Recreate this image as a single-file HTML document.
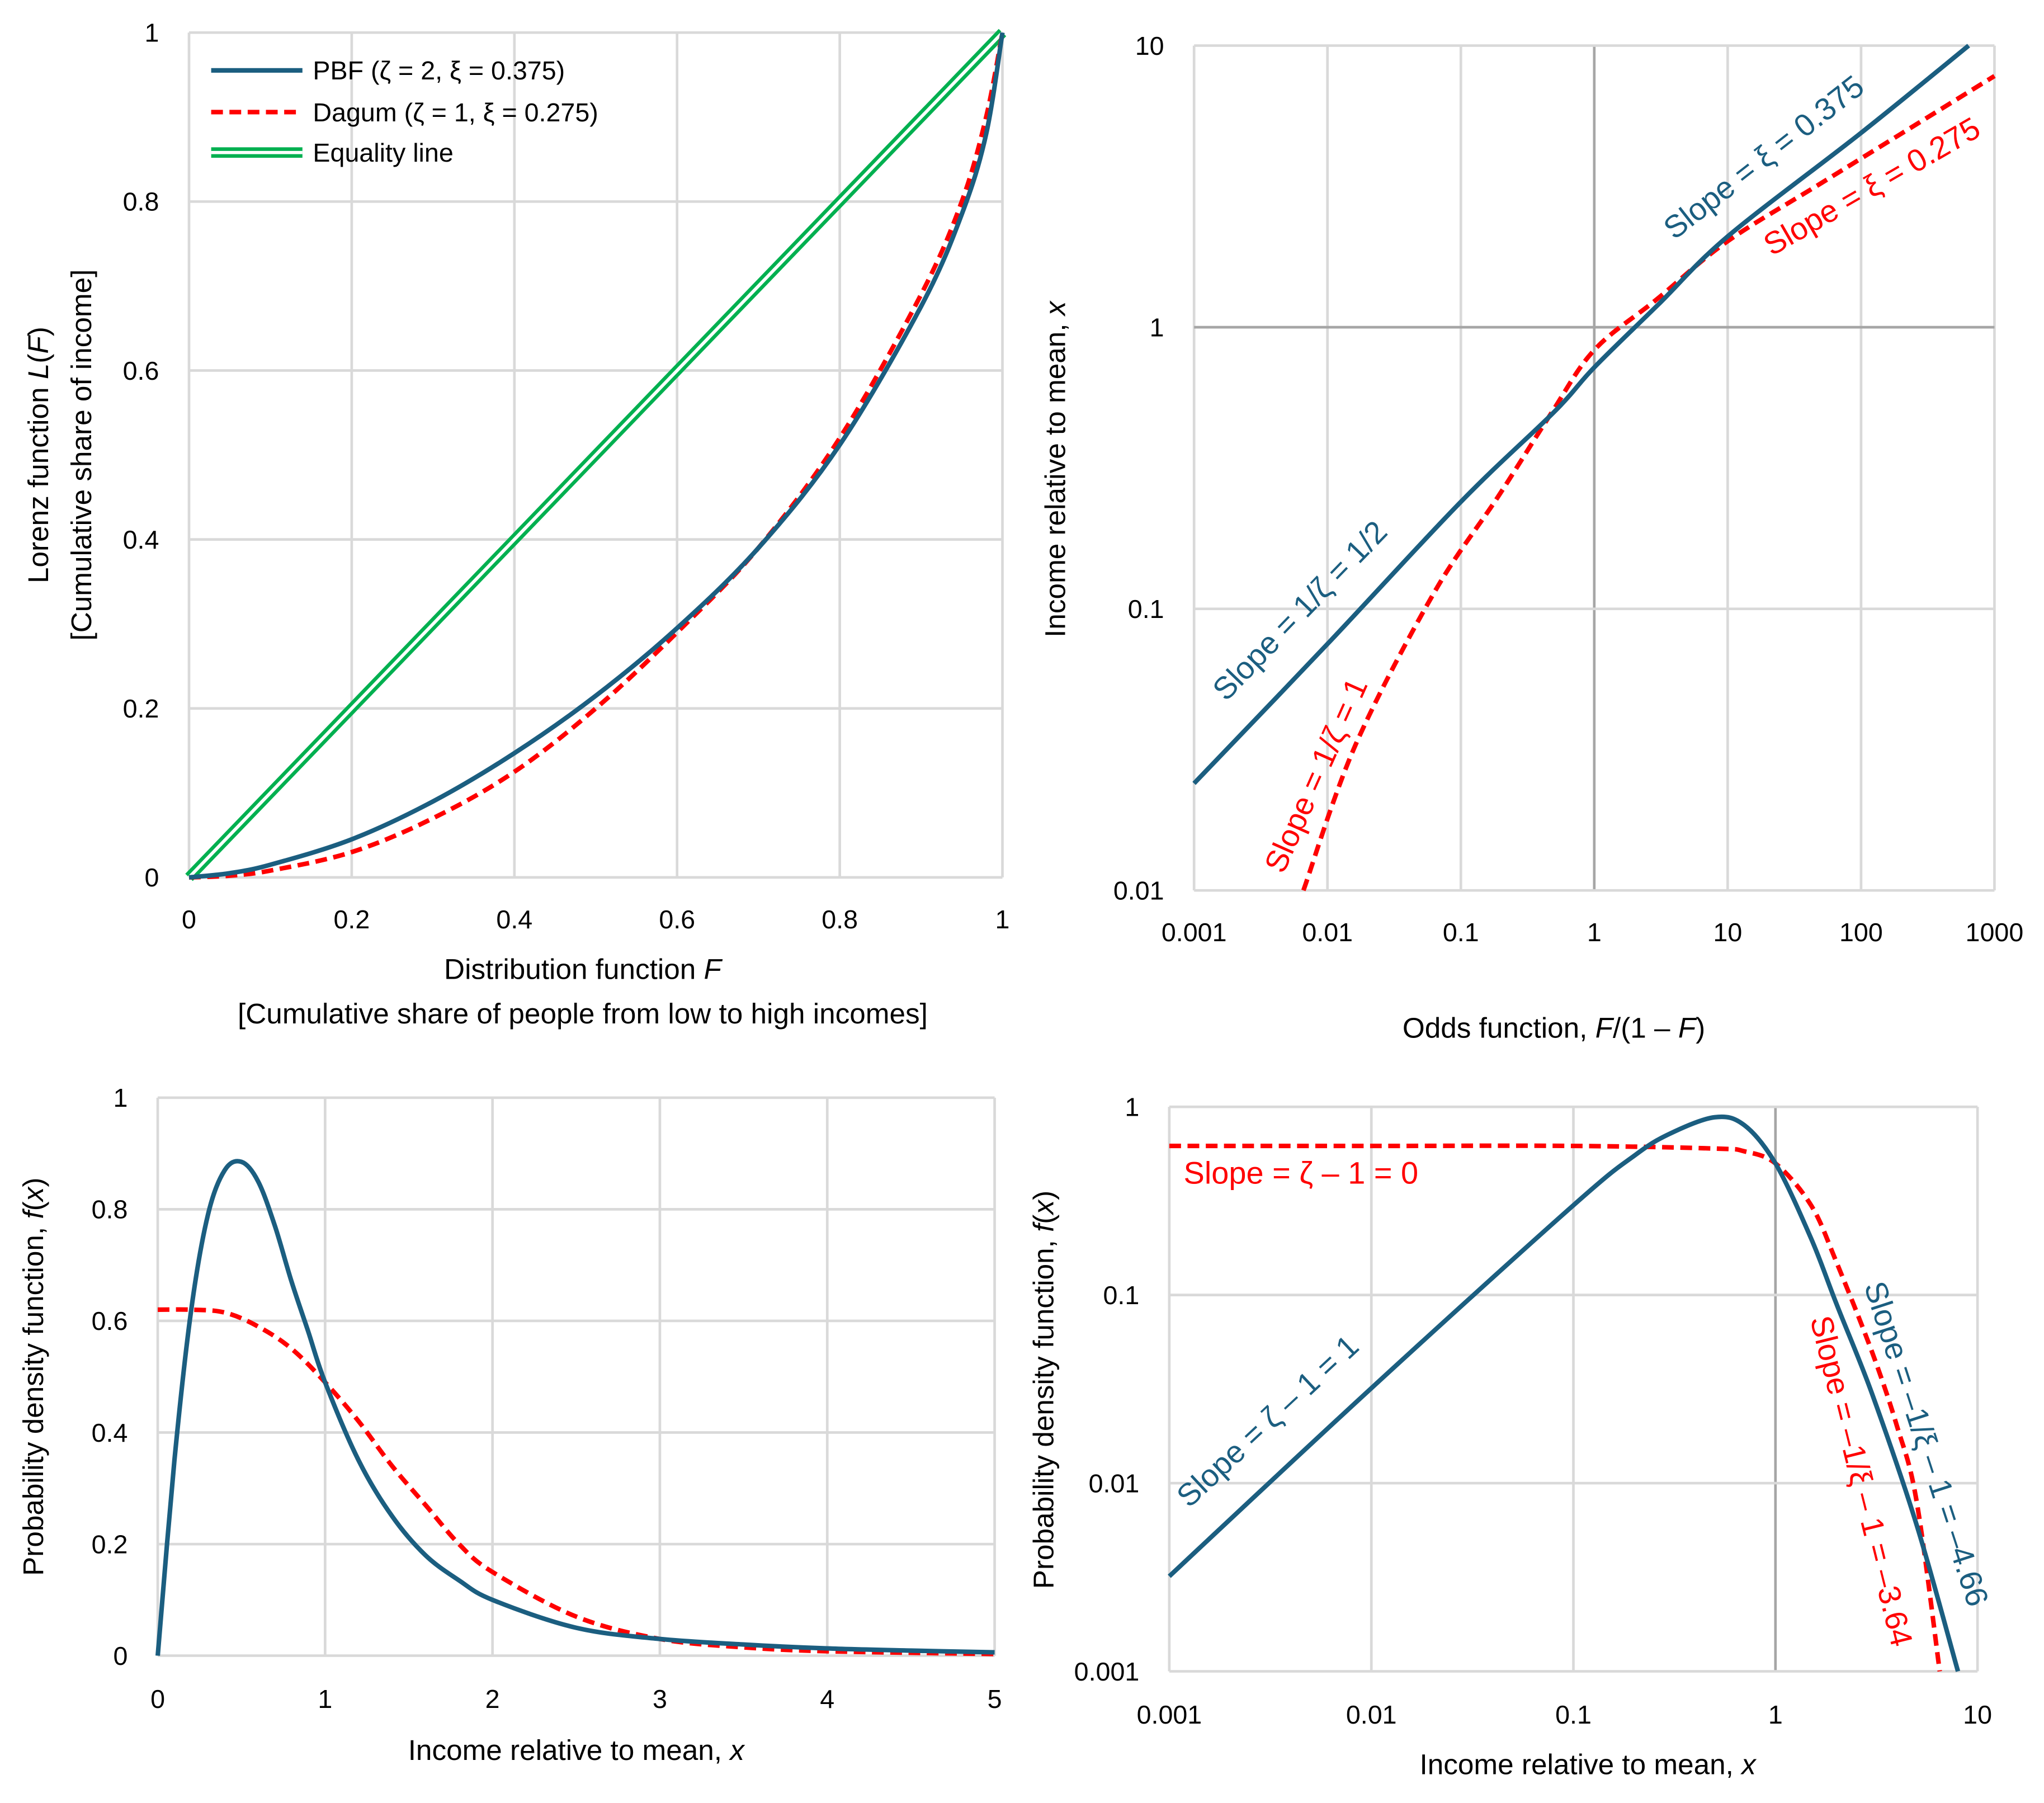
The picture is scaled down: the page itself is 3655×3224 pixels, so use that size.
<!DOCTYPE html>
<html><head><meta charset="utf-8"><style>
html,body{margin:0;padding:0;background:#fff}
svg{display:block}
text{font-family:"Liberation Sans",sans-serif;fill:#000}
</style></head><body>
<svg id="c" width="3655" height="3224" viewBox="0 0 1568 1383" preserveAspectRatio="none" xmlns="http://www.w3.org/2000/svg">
<rect width="1568" height="1383" fill="#fff"/>
</svg>
<script>
// ---- Panel A: Lorenz curves
const lorF = [0,0.05,0.1,0.2,0.3,0.4,0.5,0.6,0.7,0.8,0.9,0.95,0.98,1];
const lorPBF = [0,0.005,0.015,0.045,0.09,0.147,0.215,0.295,0.39,0.512,0.676,0.785,0.88,1];
const lorDag = [0,0.002,0.008,0.03,0.07,0.125,0.2,0.29,0.39,0.52,0.69,0.8,0.9,1];
const lorTicks = ["0","0.2","0.4","0.6","0.8","1"];
// ---- Panel B: quantile vs odds (log-log)
const oddsPBF = [0.001,0.01,0.1,0.5,1,3,10,100,640];
const xPBF = [0.024,0.075,0.24,0.5,0.72,1.2,2.1,4.9,10];
const oddsDag = [0.0066,0.0163,0.063,0.19,0.47,1,2.9,10,53,1000];
const xDag = [0.01,0.033,0.114,0.25,0.49,0.83,1.25,2.02,3.3,7.8];
const oddsTicks = ["0.001","0.01","0.1","1","10","100","1000"];
const qTicks = ["0.01","0.1","1","10"];
// ---- Panel C: PDF linear
const pdfX = [0,0.1,0.2,0.3,0.4,0.5,0.6,0.7,0.8,0.9,1,1.2,1.4,1.6,1.8,2,2.5,3,3.5,4,4.5,5];
const pdfPBF = [0,0.35,0.62,0.79,0.87,0.885,0.85,0.77,0.67,0.58,0.49,0.35,0.25,0.18,0.135,0.1,0.05,0.03,0.02,0.013,0.009,0.006];
const pdfDagX = [0,0.2,0.4,0.6,0.8,1,1.2,1.4,1.6,1.8,2,2.5,3,3.5,4,5];
const pdfDag = [0.62,0.62,0.615,0.59,0.55,0.49,0.42,0.34,0.27,0.2,0.15,0.07,0.03,0.015,0.008,0.003];
const pdfXTicks = ["0","1","2","3","4","5"];
const pdfYTicks = ["0","0.2","0.4","0.6","0.8","1"];
// ---- Panel D: PDF log-log
const llPBFx = [0.001,0.01,0.1,0.2,0.3,0.5,0.7,1,1.5,2,3,5,8];
const llPBF = [0.0032,0.032,0.3,0.55,0.72,0.88,0.8,0.5,0.2,0.09,0.03,0.006,0.001];
const llDagx = [0.001,0.01,0.1,0.5,0.7,1,1.5,2,3,4,5,6.5];
const llDag = [0.62,0.62,0.62,0.6,0.58,0.5,0.3,0.15,0.05,0.02,0.008,0.001];
const llXTicks = ["0.001","0.01","0.1","1","10"];
const llYTicks = ["0.001","0.01","0.1","1"];

const svg = document.getElementById('c');
const NS = 'http://www.w3.org/2000/svg';
function mk(tag, attrs, parent){const e=document.createElementNS(NS,tag);for(const k in attrs)e.setAttribute(k,attrs[k]);(parent||svg).appendChild(e);return e;}
function txt(s,x,y,size,anchor,name,extra){const t=mk('text',Object.assign({x:x,y:y,'font-size':size,'text-anchor':anchor||'middle'},extra||{}));t.innerHTML=s;


return t;}
const BLUE='#1b5e80', RED='#ff0000', GREEN='#00b050', GRID='#d9d9d9';
function lin(a,b,pa,pb){return v=>pa+(v-a)/(b-a)*(pb-pa);}
function lg(a,b,pa,pb){return v=>pa+(Math.log10(v)-Math.log10(a))/(Math.log10(b)-Math.log10(a))*(pb-pa);}
function path(xs,ys,sx,sy,stroke,dash,name,w){
 const P=xs.map((x,i)=>[sx(x),sy(ys[i])]);
 let d='M'+P[0][0].toFixed(1)+','+P[0][1].toFixed(1);
 for(let i=0;i<P.length-1;i++){
  const p0=P[i-1]||P[i],p1=P[i],p2=P[i+1],p3=P[i+2]||P[i+1];
  const c1=[p1[0]+(p2[0]-p0[0])/6,p1[1]+(p2[1]-p0[1])/6];
  const c2=[p2[0]-(p3[0]-p1[0])/6,p2[1]-(p3[1]-p1[1])/6];
  d+='C'+c1[0].toFixed(1)+','+c1[1].toFixed(1)+' '+c2[0].toFixed(1)+','+c2[1].toFixed(1)+' '+p2[0].toFixed(1)+','+p2[1].toFixed(1);
 }
 const p=mk('path',{d:d,fill:'none',stroke:stroke,'stroke-width':w||3.5,'stroke-dasharray':dash||'none','stroke-linejoin':'round'});
 
 
 return p;}
function gridline(x1,y1,x2,y2,c){const l=mk('line',{x1:x1,y1:y1,x2:x2,y2:y2,stroke:c||GRID,'stroke-width':2});

}

// Panel A
(function(){
 const X0=145,X1=769,Y0=673,Y1=25;
 const sx=lin(0,1,X0,X1), sy=lin(0,1,Y0,Y1);
 lorTicks.forEach(t=>{const v=+t;gridline(sx(v),Y1,sx(v),Y0);gridline(X0,sy(v),X1,sy(v));
  txt(t,sx(v),712,20,'middle','x-tick-label');txt(t,122,sy(v)+7,20,'end','y-tick-label');});
 mk('line',{x1:sx(0),y1:sy(0),x2:sx(1),y2:sy(1),stroke:GREEN,'stroke-width':8});
 mk('line',{x1:sx(0),y1:sy(0),x2:sx(1),y2:sy(1),stroke:'#fff','stroke-width':2.5});
 path(lorF,lorDag,sx,sy,RED,'9,5','dagum-lorenz');
 path(lorF,lorPBF,sx,sy,BLUE,null,'pbf-lorenz');
 mk('line',{x1:162,y1:54,x2:232,y2:54,stroke:BLUE,'stroke-width':3.5});
 mk('line',{x1:162,y1:86,x2:232,y2:86,stroke:RED,'stroke-width':3.5,'stroke-dasharray':'9,5'});
 mk('line',{x1:162,y1:117,x2:232,y2:117,stroke:GREEN,'stroke-width':8});
 mk('line',{x1:162,y1:117,x2:232,y2:117,stroke:'#fff','stroke-width':2.5});
 txt('PBF (ζ = 2, ξ = 0.375)',240,61,20,'start','legend-entry-pbf');
 txt('Dagum (ζ = 1, ξ = 0.275)',240,93,20,'start','legend-entry-dagum');
 txt('Equality line',240,124,20,'start','legend-entry-equality');
 txt('Distribution function <tspan font-style="italic">F</tspan>',447,751,22,'middle','x-axis-title');
 txt('[Cumulative share of people from low to high incomes]',447,785,22,'middle','x-axis-subtitle');
 txt('Lorenz function <tspan font-style="italic">L</tspan>(<tspan font-style="italic">F</tspan>)',0,0,22,'middle','y-axis-title',{transform:'translate(37,349) rotate(-90)'});
 txt('[Cumulative share of  income]',0,0,22,'middle','y-axis-subtitle',{transform:'translate(70,349) rotate(-90)'});
})();

// Panel B
(function(){
 const X0=916,X1=1530,Y0=683,Y1=35;
 const sx=lg(0.001,1000,X0,X1), sy=lg(0.01,10,Y0,Y1);
 oddsTicks.forEach(t=>{const v=+t;gridline(sx(v),Y1,sx(v),Y0,v===1?'#a6a6a6':GRID);txt(t,sx(v),722,20,'middle','x-tick-label');});
 qTicks.forEach(t=>{const v=+t;gridline(X0,sy(v),X1,sy(v),v===1?'#a6a6a6':GRID);txt(t,893,sy(v)+7,20,'end','y-tick-label');});
 path(oddsDag,xDag,sx,sy,RED,'9,5','dagum-quantile');
 path(oddsPBF,xPBF,sx,sy,BLUE,null,'pbf-quantile');
 txt('Slope = ξ = 0.375',0,0,24,'middle','slope-annotation',{transform:'translate(1358,127) rotate(-38)',style:'fill:'+BLUE});
 txt('Slope = ξ = 0.275',0,0,24,'middle','slope-annotation',{transform:'translate(1440,150) rotate(-30)',style:'fill:'+RED});
 txt('Slope = 1/ζ = 1/2',0,0,24,'middle','slope-annotation',{transform:'translate(1003,474) rotate(-46)',style:'fill:'+BLUE});
 txt('Slope = 1/ζ = 1',0,0,24,'middle','slope-annotation',{transform:'translate(1017,598) rotate(-66)',style:'fill:'+RED});
 txt('Odds function, <tspan font-style="italic">F</tspan>/(1 – <tspan font-style="italic">F</tspan>)',1192,796,22,'middle','x-axis-title');
 txt('Income relative to mean, <tspan font-style="italic">x</tspan>',0,0,22,'middle','y-axis-title',{transform:'translate(817,360) rotate(-90)'});
})();

// Panel C
(function(){
 const X0=121,X1=763,Y0=1270,Y1=842;
 const sx=lin(0,5,X0,X1), sy=lin(0,1,Y0,Y1);
 pdfXTicks.forEach(t=>{const v=+t;gridline(sx(v),Y1,sx(v),Y0);txt(t,sx(v),1310,20,'middle','x-tick-label');});
 pdfYTicks.forEach(t=>{const v=+t;gridline(X0,sy(v),X1,sy(v));txt(t,98,sy(v)+7,20,'end','y-tick-label');});
 path(pdfDagX,pdfDag,sx,sy,RED,'9,5','dagum-pdf');
 path(pdfX,pdfPBF,sx,sy,BLUE,null,'pbf-pdf');
 txt('Income relative to mean, <tspan font-style="italic">x</tspan>',442,1350,22,'middle','x-axis-title');
 txt('Probability density function, <tspan font-style="italic">f</tspan>(<tspan font-style="italic">x</tspan>)',0,0,22,'middle','y-axis-title',{transform:'translate(33,1056) rotate(-90)'});
})();

// Panel D
(function(){
 const X0=897,X1=1517,Y0=1282,Y1=849;
 const sx=lg(0.001,10,X0,X1), sy=lg(0.001,1,Y0,Y1);
 llXTicks.forEach(t=>{const v=+t;gridline(sx(v),Y1,sx(v),Y0,v===1?'#a6a6a6':GRID);txt(t,sx(v),1322,20,'middle','x-tick-label');});
 llYTicks.forEach(t=>{const v=+t;gridline(X0,sy(v),X1,sy(v));txt(t,874,sy(v)+7,20,'end','y-tick-label');});
 path(llDagx,llDag,sx,sy,RED,'9,5','dagum-pdf-log');
 path(llPBFx,llPBF,sx,sy,BLUE,null,'pbf-pdf-log');
 txt('Slope = ζ – 1 = 0',908,908,24,'start','slope-annotation',{style:'fill:'+RED});
 txt('Slope = ζ – 1 = 1',0,0,24,'middle','slope-annotation',{transform:'translate(978,1096) rotate(-43)',style:'fill:'+BLUE});
 txt('Slope = –1/ξ – 1 = –4.66',0,0,24,'middle','slope-annotation',{transform:'translate(1470,1110) rotate(72)',style:'fill:'+BLUE});
 txt('Slope = –1/ξ – 1 = –3.64',0,0,24,'middle','slope-annotation',{transform:'translate(1420,1138) rotate(76)',style:'fill:'+RED});
 txt('Income relative to mean, <tspan font-style="italic">x</tspan>',1218,1361,22,'middle','x-axis-title');
 txt('Probability density function, <tspan font-style="italic">f</tspan>(<tspan font-style="italic">x</tspan>)',0,0,22,'middle','y-axis-title',{transform:'translate(808,1066) rotate(-90)'});
})();
</script>
</body></html>
